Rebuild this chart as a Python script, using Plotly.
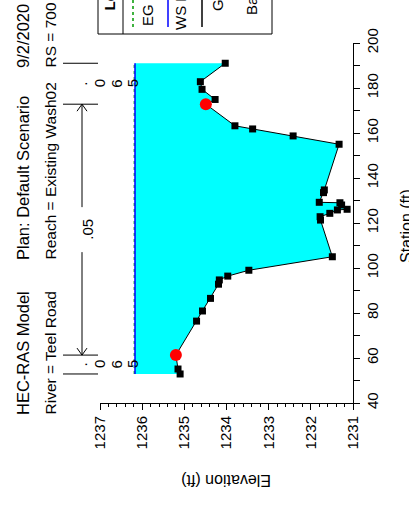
import plotly.graph_objects as go

# Cross-section ground profile (station ft, elevation ft)
station = [52.9, 55.1, 61.3, 76.4, 80.9, 86.5, 92.8, 94.7, 96.4, 99.0, 105.0,
           121.3, 122.8, 124.3, 125.8, 126.1, 128.0, 129.0, 129.2, 133.5, 134.7,
           155.0, 158.7, 161.8, 163.2, 172.8, 174.9, 179.4, 182.8, 191.0]
elevation = [1235.10, 1235.15, 1235.20, 1234.71, 1234.57, 1234.38, 1234.19, 1234.17,
             1233.97, 1233.47, 1231.49, 1231.77, 1231.78, 1231.55, 1231.37, 1231.14,
             1231.27, 1231.31, 1231.80, 1231.70, 1231.68, 1231.33, 1232.42, 1233.38,
             1233.80, 1234.49, 1234.27, 1234.58, 1234.62, 1234.03]

bank_station = [61.3, 172.8]
bank_elevation = [1235.20, 1234.49]

ws_elev = 1236.17
eg_elev = 1236.19

n_breaks = [52.9, 61.3, 172.8, 191.0]
n_values = [".065", ".05", ".065"]

elev_ticks = [1231, 1232, 1233, 1234, 1235, 1236, 1237]
sta_ticks = [40, 60, 80, 100, 120, 140, 160, 180, 200]

title_lines = [["HEC-RAS Model", "Plan: Default Scenario", "9/2/2020"],
               ["River = Teel Road", "Reach = Existing Wash02", "RS = 700"]]
legend_labels = ["EG PF 1", "WS PF 1", "Ground", "Bank Sta"]

FONT = "Liberation Sans, Arial, sans-serif"
W, H = 409, 508
PL, PR, PT, PB = 100, 353, 43, 403   # plot area in pixels


def px(xp):
    return (xp - PL) / (PR - PL)


def py(yp):
    return (PB - yp) / (PB - PT)


def label(x, y, text, angle=-90, size=15, xref="paper", yref="paper",
          xanchor="center", yanchor="middle"):
    return dict(xref=xref, yref=yref, x=x, y=y, text=text, textangle=angle,
                showarrow=False, xanchor=xanchor, yanchor=yanchor,
                font=dict(family=FONT, size=size, color="black"))


fig = go.Figure()

# water between the surface and the ground
fig.add_trace(go.Scatter(
    x=elevation + [ws_elev, ws_elev],
    y=station + [station[-1], station[0]],
    fill="toself", fillcolor="#00FFFF", mode="lines",
    line=dict(width=0, color="#00FFFF"), hoverinfo="skip", showlegend=False))

fig.add_trace(go.Scatter(
    x=[eg_elev, eg_elev], y=[station[0], station[-1]], mode="lines",
    line=dict(color="#009900", width=1, dash="dot"), showlegend=False))
fig.add_trace(go.Scatter(
    x=[ws_elev, ws_elev], y=[station[0], station[-1]], mode="lines",
    line=dict(color="#0000FF", width=1.5), showlegend=False))

fig.add_trace(go.Scatter(
    x=elevation, y=station, mode="lines+markers",
    line=dict(color="black", width=1),
    marker=dict(symbol="square", size=7, color="black"), showlegend=False))

fig.add_trace(go.Scatter(
    x=bank_elevation, y=bank_station, mode="markers",
    marker=dict(symbol="circle", size=12, color="#FF0000"), showlegend=False))

shapes = []
annotations = []

# Manning's n break markers above the section
for s in n_breaks:
    shapes.append(dict(type="line", xref="paper", yref="y",
                       x0=px(63), x1=px(98), y0=s, y1=s,
                       line=dict(color="black", width=1)))

# main channel arrow with .05 label
arr_x = px(82)
mid = (n_breaks[1] + n_breaks[2]) / 2
gap = 10.0
shapes.append(dict(type="line", xref="paper", yref="y", x0=arr_x, x1=arr_x,
                   y0=n_breaks[1], y1=mid - gap, line=dict(color="black", width=1)))
shapes.append(dict(type="line", xref="paper", yref="y", x0=arr_x, x1=arr_x,
                   y0=mid + gap, y1=n_breaks[2], line=dict(color="black", width=1)))
ah_w = 5 / (PR - PL)
ah_h = 7 / ((PB - PT) / 160)
for tip, d in [(n_breaks[1], 1), (n_breaks[2], -1)]:
    shapes.append(dict(type="path", xref="paper", yref="y",
                       path=f"M {arr_x - ah_w},{tip + d * ah_h} L {arr_x},{tip} L {arr_x + ah_w},{tip + d * ah_h}",
                       line=dict(color="black", width=1)))
annotations.append(label(px(88), mid, n_values[1], yref="y"))

# overbank n values written as stacked characters
for s0, s1, val in [(n_breaks[0], n_breaks[1], n_values[0]), (n_breaks[2], n_breaks[3], n_values[2])]:
    c = (s0 + s1) / 2
    for ch, xp in zip(val, [82, 99.5, 117, 132.5]):
        annotations.append(label(px(xp), c, ch, yref="y"))

# header text
for col, xp, size in [(0, 23, 16.5), (1, 50, 15.5)]:
    for txt, yb in zip(title_lines[col], [417, 262, 70]):
        annotations.append(label(px(xp), py(yb), txt, size=size, yanchor="bottom"))

# legend box (runs past the top edge)
shapes.append(dict(type="rect", xref="paper", yref="paper", x0=px(98), x1=px(272),
                   y0=py(34), y1=py(-40), line=dict(color="black", width=1)))
shapes.append(dict(type="line", xref="paper", yref="paper", x0=px(123), x1=px(123),
                   y0=py(34), y1=py(-40), line=dict(color="black", width=1)))
annotations.append(label(px(109), py(13), "<b>Legend</b>", yanchor="bottom"))
for xp, col, dash in [(133, "#009900", "dot"), (168, "#0000FF", "solid"), (202, "black", "solid")]:
    shapes.append(dict(type="line", xref="paper", yref="paper", x0=px(xp), x1=px(xp),
                       y0=py(27), y1=py(-40), line=dict(color=col, width=1.5, dash=dash)))
for lab, xp, yb in zip(legend_labels, [148, 180, 217, 251], [28, 32, 13, 17]):
    annotations.append(label(px(xp), py(yb), lab, yanchor="bottom"))

# axis titles
annotations.append(label(px(226.5), py(480), "Elevation (ft)", angle=180, size=16))
annotations.append(label(px(406), py(226), "Station (ft)", size=16))

fig.update_layout(
    width=W, height=H,
    margin=dict(l=PL, r=W - PR, t=PT, b=H - PB, pad=0),
    paper_bgcolor="white", plot_bgcolor="white",
    showlegend=False,
    shapes=shapes, annotations=annotations,
    xaxis=dict(range=[elev_ticks[-1], elev_ticks[0]], tickvals=elev_ticks,
               ticks="outside", ticklen=6, tickwidth=1, tickcolor="black",
               showline=True, linecolor="black", linewidth=1,
               showgrid=False, zeroline=False, tickangle=-90,
               tickfont=dict(family=FONT, size=15, color="black"),
               minor=dict(dtick=0.2, tick0=1231, ticks="outside", ticklen=3,
                          tickcolor="black", tickwidth=1, showgrid=False)),
    yaxis=dict(range=[sta_ticks[0], sta_ticks[-1]], tickvals=sta_ticks, side="right",
               ticks="outside", ticklen=6, tickwidth=1, tickcolor="black",
               showline=True, linecolor="black", linewidth=1,
               showgrid=False, zeroline=False, tickangle=-90,
               tickfont=dict(family=FONT, size=15, color="black"),
               minor=dict(dtick=10, tick0=40, ticks="outside", ticklen=6,
                          tickcolor="black", tickwidth=1, showgrid=False)),
)

fig.write_html("out.html")
